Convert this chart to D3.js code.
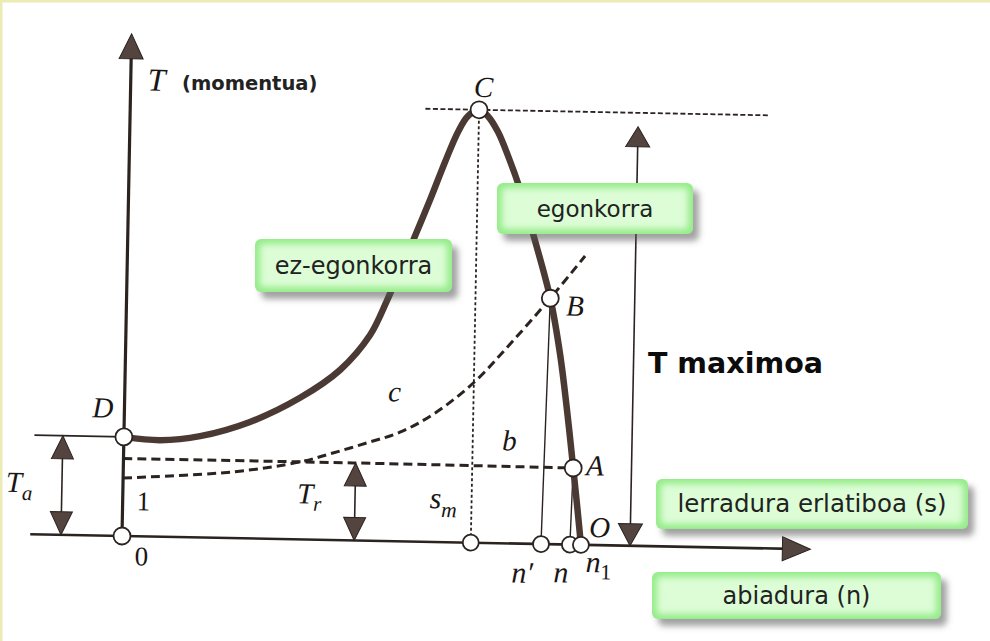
<!DOCTYPE html>
<html>
<head>
<meta charset="utf-8">
<script src="https://cdn.jsdelivr.net/npm/d3@7"></script>
<style>
  body { margin: 0; background: #fff; }
  svg { display: block; }
</style>
</head>
<body>
<div id="viz"></div>
<script>
// speed in % of the synchronous speed n1, torque in % of the maximum torque
const motorSpeed  = [0, 7.9, 16.6, 27.4, 38.2, 46.8, 53.2, 56.8, 59.5, 62.2, 65.7, 68.8, 71.5, 73.6, 76, 78, 80.2, 82.5, 85.2, 88.3, 92.3, 94.7, 96.4, 98, 99, 100];
const motorTorque = [22.9, 22.3, 23.4, 26.9, 32.7, 39.3, 47.5, 55.7, 62.7, 69.6, 79, 87.8, 94.8, 98.5, 100, 98.5, 95, 89.5, 82, 71.5, 56.8, 43.7, 31.1, 17.7, 9.1, 0];

const loadBSpeed  = [0, 50, 98];
const loadBTorque = [17.9, 17.9, 17.7];

const loadCSpeed  = [0, 23.9, 38.5, 45.6, 53, 60.1, 67.3, 76, 83.7, 92.3, 99.7];
const loadCTorque = [13.4, 15.3, 17.9, 20.1, 22.6, 25.2, 29.5, 37, 46, 56.8, 66.7];

const pointNames  = ["D", "C", "B", "A"];
const pointSpeed  = [0, 76, 92.3, 98];
const pointTorque = [22.9, 100, 56.8, 17.7];

const axisMarkNames = ["0", "s_m", "n'", "n", "n1"];
const axisMarkSpeed = [0, 76, 91.3, 97.6, 100];

const startTorque = 22.9;   // Ta
const loadTorque  = 17.9;   // Tr
const maxTorque   = 100;

const boxLabels = ["egonkorra", "ez-egonkorra", "lerradura erlatiboa (s)", "abiadura (n)"];

const width = 990;
const height = 641;

const svg = d3.select("#viz").append("svg")
  .attr("width", width)
  .attr("height", height);

const defs = svg.append("defs");
defs.append("filter").attr("id", "shadow")
  .attr("x", "-10%").attr("y", "-20%").attr("width", "130%").attr("height", "160%")
  .append("feDropShadow")
  .attr("dx", 6).attr("dy", 7).attr("stdDeviation", 3)
  .attr("flood-color", "#555").attr("flood-opacity", 0.55);
defs.append("filter").attr("id", "glow")
  .append("feGaussianBlur").attr("stdDeviation", 3);

svg.append("rect").attr("width", width).attr("height", height).attr("fill", "#fff");
// pale yellow frame of the slide
svg.append("line").attr("x1", 0).attr("x2", width).attr("y1", 1).attr("y2", 1)
  .attr("stroke", "#ecebb4").attr("stroke-width", 3);
svg.append("line").attr("x1", 1).attr("x2", 1).attr("y1", 0).attr("y2", height)
  .attr("stroke", "#ecebb4").attr("stroke-width", 3);

const x = d3.scaleLinear().domain([0, 100]).range([122, 581]);
const y = d3.scaleLinear().domain([0, 100]).range([536, 103]);

// the scanned figure is tilted slightly clockwise
const chart = svg.append("g").attr("transform", "rotate(1.1,122,536)");

const ink = "#2b2320";
const brown = "#4a3a33";
const headFill = "#544440";

function arrowHead(g, tx, ty, dir, len, wid) {
  let pts;
  if (dir === "up") pts = [[tx, ty], [tx - wid / 2, ty + len], [tx + wid / 2, ty + len]];
  else if (dir === "down") pts = [[tx, ty], [tx - wid / 2, ty - len], [tx + wid / 2, ty - len]];
  else pts = [[tx, ty], [tx - len, ty - wid / 2], [tx - len, ty + wid / 2]];
  g.append("path")
    .attr("d", "M" + pts.map(p => p.join(",")).join("L") + "Z")
    .attr("fill", headFill).attr("stroke", ink).attr("stroke-width", 1);
}

function doubleArrow(g, s, t0, t1) {
  g.append("line")
    .attr("x1", x(s)).attr("x2", x(s))
    .attr("y1", y(t0) - 20).attr("y2", y(t1) + 20)
    .attr("stroke", ink).attr("stroke-width", 1.6);
  arrowHead(g, x(s), y(t1), "up", 23, 22);
  arrowHead(g, x(s), y(t0), "down", 23, 22);
}

// axes
chart.append("line")
  .attr("x1", x(-20)).attr("x2", x(150) - 20)
  .attr("y1", y(0)).attr("y2", y(0))
  .attr("stroke", ink).attr("stroke-width", 2.6);
arrowHead(chart, x(150), y(0), "right", 28, 24);

chart.append("line")
  .attr("x1", x(0)).attr("x2", x(0))
  .attr("y1", y(0)).attr("y2", y(116) + 20)
  .attr("stroke", ink).attr("stroke-width", 3.2);
arrowHead(chart, x(0), y(116), "up", 25, 24);

// Ta level line
chart.append("line")
  .attr("x1", x(-19.5)).attr("x2", x(0))
  .attr("y1", y(startTorque)).attr("y2", y(startTorque))
  .attr("stroke", ink).attr("stroke-width", 1.6);

doubleArrow(chart, -13.3, 0, startTorque);
doubleArrow(chart, 50.6, 0, loadTorque);

// maximum torque reference line and arrow
chart.append("line")
  .attr("x1", x(64.3)).attr("x2", x(139.4))
  .attr("y1", y(maxTorque)).attr("y2", y(maxTorque))
  .attr("stroke", ink).attr("stroke-width", 1.8)
  .attr("stroke-dasharray", "5,2.5");
chart.append("line")
  .attr("x1", x(110.7)).attr("x2", x(110.7))
  .attr("y1", y(0) - 18).attr("y2", y(maxTorque) + 18)
  .attr("stroke", ink).attr("stroke-width", 1.6);
arrowHead(chart, x(110.7), y(maxTorque) + 14, "up", 20, 24);
arrowHead(chart, x(110.7), y(0), "down", 22, 24);

// dotted line from C down to s_m
chart.append("line")
  .attr("x1", x(pointSpeed[1])).attr("x2", x(axisMarkSpeed[1]))
  .attr("y1", y(pointTorque[1])).attr("y2", y(0))
  .attr("stroke", ink).attr("stroke-width", 1.8)
  .attr("stroke-dasharray", "3,2.5");

// thin lines B -> n' and A -> n
chart.append("line")
  .attr("x1", x(pointSpeed[2])).attr("x2", x(axisMarkSpeed[2]))
  .attr("y1", y(pointTorque[2])).attr("y2", y(0))
  .attr("stroke", ink).attr("stroke-width", 1.4);
chart.append("line")
  .attr("x1", x(pointSpeed[3])).attr("x2", x(axisMarkSpeed[3]))
  .attr("y1", y(pointTorque[3])).attr("y2", y(0))
  .attr("stroke", ink).attr("stroke-width", 1.4);

const line = d3.line()
  .x(d => x(d[0]))
  .y(d => y(d[1]))
  .curve(d3.curveCatmullRom.alpha(0.5));

chart.append("path")
  .attr("d", line(d3.zip(loadBSpeed, loadBTorque)))
  .attr("fill", "none").attr("stroke", ink)
  .attr("stroke-width", 3).attr("stroke-dasharray", "9,5");

chart.append("path")
  .attr("d", line(d3.zip(loadCSpeed, loadCTorque)))
  .attr("fill", "none").attr("stroke", ink)
  .attr("stroke-width", 3).attr("stroke-dasharray", "9,5");

chart.append("path")
  .attr("d", line(d3.zip(motorSpeed, motorTorque)))
  .attr("fill", "none").attr("stroke", brown)
  .attr("stroke-width", 6.5).attr("stroke-linecap", "round");

// circles
chart.selectAll(".pt")
  .data(d3.zip(pointSpeed, pointTorque))
  .enter().append("circle")
  .attr("cx", d => x(d[0])).attr("cy", d => y(d[1]))
  .attr("r", 8.5).attr("fill", "#fff")
  .attr("stroke", ink).attr("stroke-width", 1.8);

chart.selectAll(".ax")
  .data(axisMarkSpeed)
  .enter().append("circle")
  .attr("cx", d => x(d)).attr("cy", y(0))
  .attr("r", d => d === 0 ? 8.5 : 8)
  .attr("fill", "#fff")
  .attr("stroke", ink).attr("stroke-width", 1.8);

// letter labels of the scanned figure
const serif = "'Liberation Serif', 'DejaVu Serif', serif";
function label(g, px, py, txt, sub, opts = {}) {
  const size = opts.size || 29;
  const t = g.append("text")
    .attr("x", px).attr("y", py)
    .attr("font-family", serif)
    .attr("font-size", size)
    .attr("font-style", opts.upright ? "normal" : "italic")
    .attr("text-anchor", opts.anchor || "start")
    .attr("fill", "#1a1614");
  t.append("tspan").text(txt);
  if (sub) {
    t.append("tspan").attr("dy", opts.subDy || 7)
      .attr("font-style", opts.subUpright ? "normal" : "italic")
      .attr("font-size", size * 0.72).text(sub);
  }
}

label(chart, x(0) + 17, y(maxTorque) - 13, "T", null, { size: 32 });
label(chart, x(0) - 11, y(pointTorque[0]) - 19, pointNames[0], null, { anchor: "end" });
label(chart, x(pointSpeed[1]) + 4, y(pointTorque[1]) - 13, pointNames[1], null, { anchor: "middle" });
label(chart, x(pointSpeed[2]) + 16, y(pointTorque[2]) + 17, pointNames[2]);
label(chart, x(pointSpeed[3]) + 13, y(pointTorque[3]) + 7, pointNames[3]);
label(chart, x(axisMarkSpeed[4]) + 8, y(0) - 8, "O");

label(chart, x(0) + 14, y(0) - 26, "1", null, { upright: true, size: 27 });
label(chart, x(0) + 13, y(0) + 29, axisMarkNames[0], null, { upright: true, size: 27 });
label(chart, x(axisMarkSpeed[1]) - 42, y(0) - 34, "s", "m", { subDy: 9, size: 30 });
label(chart, x(axisMarkSpeed[2]) - 29, y(0) + 39, "n′", null, { size: 30 });
label(chart, x(axisMarkSpeed[3]) - 16, y(0) + 38, "n", null, { size: 30 });
label(chart, x(axisMarkSpeed[4]) + 5, y(0) + 27, "n", "1", { size: 30, subDy: 7, subUpright: true });
label(chart, x(50.6) - 58, y(0) - 36, "T", "r", { subDy: 7 });
label(chart, x(-13.3) - 56, y(0) - 42, "T", "a", { subDy: 8 });
label(chart, x(57.4), y(32.3), "c", null, { size: 29 });
label(chart, x(82.4), y(21.5), "b", null, { size: 29 });

// overlay texts of the slide
const sans = "'DejaVu Sans', Verdana, sans-serif";
svg.append("text")
  .attr("x", 182).attr("y", 90)
  .attr("font-family", sans).attr("font-weight", "bold")
  .attr("font-size", 19.5).attr("fill", "#222")
  .text("(momentua)");

svg.append("text")
  .attr("x", 648).attr("y", 373)
  .attr("font-family", sans).attr("font-weight", "bold")
  .attr("font-size", 28.5).attr("fill", "#0c0c0c")
  .text("T maximoa");

// green label boxes
const boxLayout = [
  { x: 497, y: 183, w: 196, h: 51, size: 23 },
  { x: 255, y: 239, w: 197, h: 53, size: 24 },
  { x: 656, y: 479, w: 312, h: 50, size: 24.5 },
  { x: 652, y: 572, w: 289, h: 47, size: 24 }
];

const boxes = svg.selectAll(".box")
  .data(boxLabels)
  .enter().append("g")
  .attr("transform", (d, i) => `translate(${boxLayout[i].x},${boxLayout[i].y})`);

boxes.append("rect")
  .attr("width", (d, i) => boxLayout[i].w)
  .attr("height", (d, i) => boxLayout[i].h)
  .attr("rx", 6)
  .attr("fill", "#96ec8a")
  .attr("filter", "url(#shadow)");
boxes.append("rect")
  .attr("x", 5).attr("y", 5)
  .attr("width", (d, i) => boxLayout[i].w - 10)
  .attr("height", (d, i) => boxLayout[i].h - 10)
  .attr("rx", 4)
  .attr("fill", "#dcfdd6")
  .attr("filter", "url(#glow)");
boxes.append("text")
  .attr("x", (d, i) => boxLayout[i].w / 2)
  .attr("y", (d, i) => boxLayout[i].h / 2 + 8)
  .attr("text-anchor", "middle")
  .attr("font-family", sans)
  .attr("font-size", (d, i) => boxLayout[i].size)
  .attr("fill", "#222")
  .text(d => d);
</script>
</body>
</html>
